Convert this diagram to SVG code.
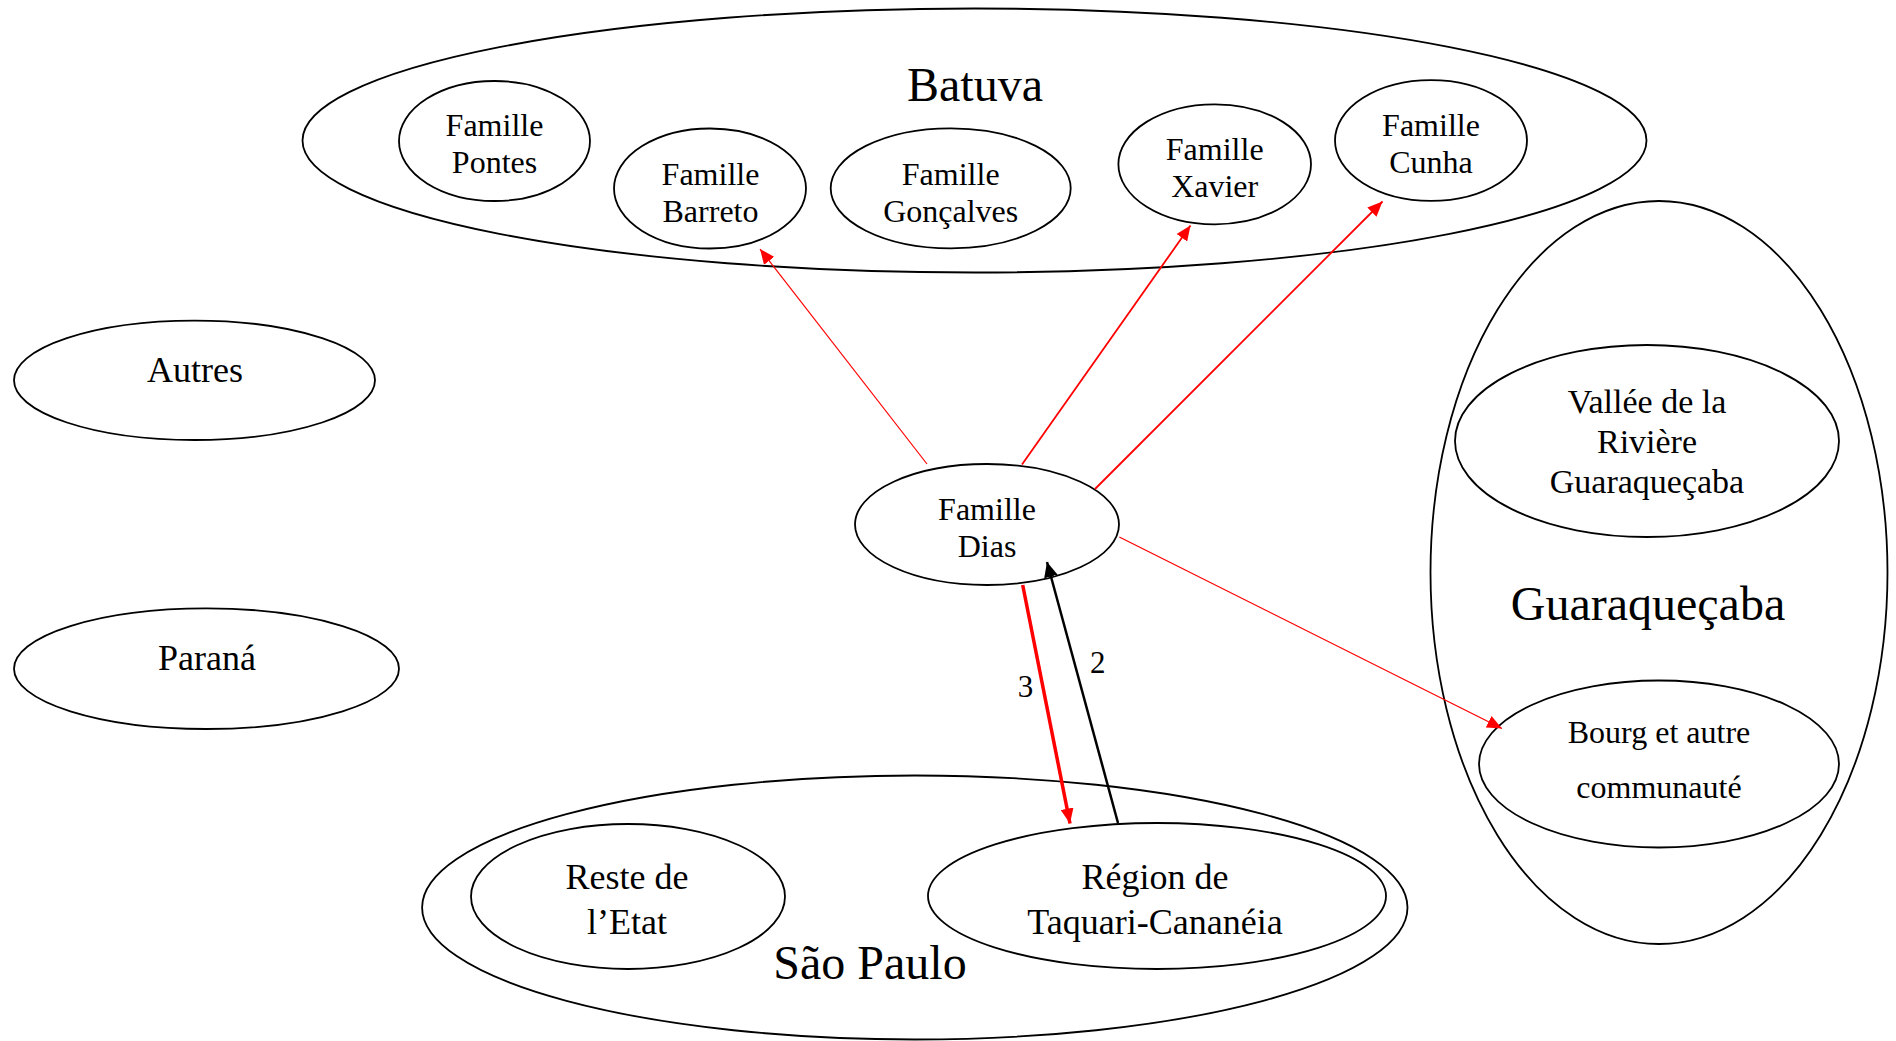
<svg xmlns="http://www.w3.org/2000/svg" width="1896" height="1041" viewBox="0 0 1896 1041">
<style>
ellipse{fill:none;stroke:#000;stroke-width:1.8}
text{font-family:"Liberation Serif","Times New Roman",serif;fill:#000;text-anchor:middle}
.big{font-size:48px}
.mid{font-size:36px}
.fam{font-size:32px}
.val{font-size:34px}
.lbl{font-size:31px}
.red{stroke:#FF0000;fill:none}
.blk{stroke:#000;fill:none}
</style>
<defs>
<marker id="ahR" markerUnits="userSpaceOnUse" markerWidth="16" markerHeight="13" refX="15" refY="6.5" orient="auto" viewBox="0 0 16 13">
<path d="M0,0 L15,6.5 L0,13 z" fill="#FF0000"/>
</marker>
<marker id="ahK" markerUnits="userSpaceOnUse" markerWidth="16" markerHeight="14" refX="15" refY="7" orient="auto" viewBox="0 0 16 14">
<path d="M0,0 L15,7 L0,14 z" fill="#000"/>
</marker>
</defs>
<rect width="1896" height="1041" fill="#fff"/>

<g id="batuva">
<ellipse cx="974.5" cy="140.5" rx="672" ry="132"/>
<text class="big" x="975" y="101">Batuva</text>
</g>
<g id="pontes">
<ellipse cx="494.5" cy="141" rx="95.5" ry="60"/>
<text class="fam" x="494.5" y="135.5">Famille</text>
<text class="fam" x="494.5" y="172.5">Pontes</text>
</g>
<g id="barreto">
<ellipse cx="710" cy="188.5" rx="96" ry="60"/>
<text class="fam" x="710.5" y="184.5">Famille</text>
<text class="fam" x="710.5" y="221.5">Barreto</text>
</g>
<g id="goncalves">
<ellipse cx="950.7" cy="188.3" rx="120" ry="60"/>
<text class="fam" x="950.7" y="184.5">Famille</text>
<text class="fam" x="950.7" y="221.5">Gonçalves</text>
</g>
<g id="xavier">
<ellipse cx="1214.7" cy="164.3" rx="96.3" ry="60"/>
<text class="fam" x="1214.7" y="160">Famille</text>
<text class="fam" x="1214.7" y="196.5">Xavier</text>
</g>
<g id="cunha">
<ellipse cx="1431" cy="140.5" rx="96" ry="60.3"/>
<text class="fam" x="1431" y="135.5">Famille</text>
<text class="fam" x="1431" y="172.5">Cunha</text>
</g>

<g id="autres">
<ellipse cx="194.5" cy="380.3" rx="180.5" ry="59.7"/>
<text class="mid" x="195" y="382">Autres</text>
</g>
<g id="parana">
<ellipse cx="206.5" cy="668.7" rx="192.5" ry="60.3"/>
<text class="mid" x="207" y="670">Paraná</text>
</g>

<g id="dias">
<ellipse cx="987" cy="524.5" rx="132" ry="60.5"/>
<text class="fam" x="987" y="519.5">Famille</text>
<text class="fam" x="987" y="556.5">Dias</text>
</g>

<g id="guaraquecaba">
<ellipse cx="1659" cy="572.5" rx="228.5" ry="371.5"/>
<text class="big" x="1648" y="619.5">Guaraqueçaba</text>
</g>
<g id="vallee">
<ellipse cx="1647" cy="441" rx="192" ry="96"/>
<text class="val" x="1647" y="412.5">Vallée de la</text>
<text class="val" x="1647" y="452.5">Rivière</text>
<text class="val" x="1647" y="492.5">Guaraqueçaba</text>
</g>
<g id="bourg">
<ellipse cx="1659" cy="764" rx="180" ry="83.5"/>
<text class="fam" x="1659" y="742.5">Bourg et autre</text>
<text class="fam" x="1659" y="798">communauté</text>
</g>

<g id="saopaulo">
<ellipse cx="914.8" cy="907.5" rx="492.7" ry="132"/>
<text class="big" x="870" y="978.5">São Paulo</text>
</g>
<g id="reste">
<ellipse cx="628" cy="896.5" rx="157" ry="72.5"/>
<text class="mid" x="627" y="888.5">Reste de</text>
<text class="mid" x="627" y="933.5">l’Etat</text>
</g>
<g id="regiao">
<ellipse cx="1157" cy="896" rx="229" ry="73"/>
<text class="mid" x="1155" y="888.5">Région de</text>
<text class="mid" x="1155" y="933.5">Taquari-Cananéia</text>
</g>

<g id="connectors">
<line class="red" x1="927" y1="464" x2="760" y2="249" stroke-width="1.2" marker-end="url(#ahR)"/>
<line class="red" x1="1022" y1="464.5" x2="1190.5" y2="225.5" stroke-width="1.8" marker-end="url(#ahR)"/>
<line class="red" x1="1095" y1="489" x2="1382.5" y2="201.5" stroke-width="1.8" marker-end="url(#ahR)"/>
<line class="red" x1="1119.3" y1="537" x2="1502" y2="728.5" stroke-width="1.2" marker-end="url(#ahR)"/>
<line class="red" x1="1022.7" y1="585" x2="1070" y2="823.5" stroke-width="3.5" marker-end="url(#ahR)"/>
<line class="blk" x1="1118" y1="823" x2="1047" y2="562" stroke-width="2.5" marker-end="url(#ahK)"/>
<text class="lbl" x="1025.5" y="697">3</text>
<text class="lbl" x="1097.8" y="673">2</text>
</g>
</svg>
